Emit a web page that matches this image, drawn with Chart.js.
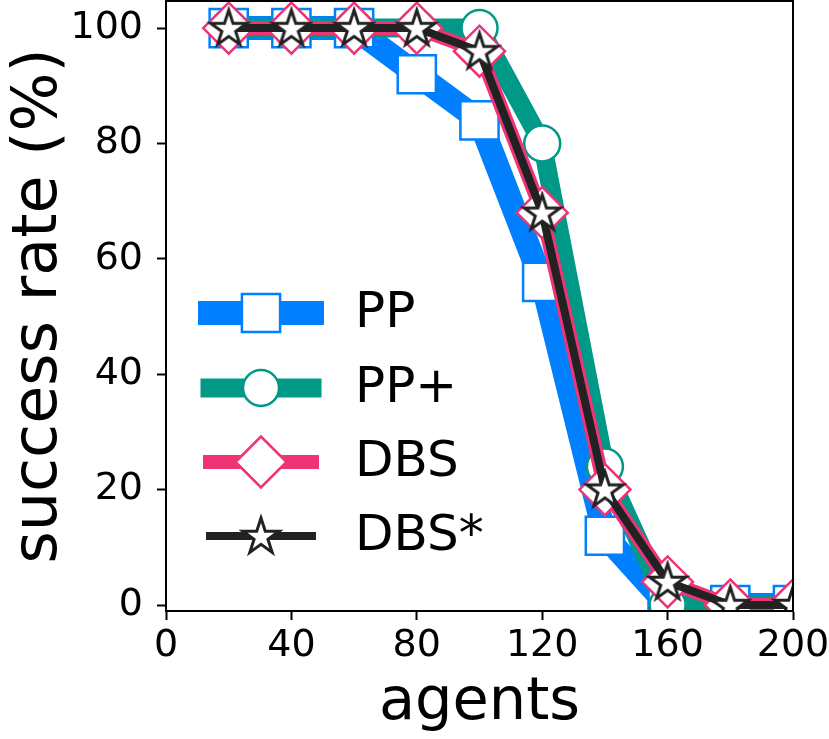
<!DOCTYPE html>
<html>
<head>
<meta charset="utf-8">
<script src="https://cdn.jsdelivr.net/npm/chart.js@4.4.0/dist/chart.umd.min.js"></script>
<style>
  body { margin: 0; background: #fff; }
  #wrap { width: 829px; height: 739px; }
</style>
</head>
<body>
<div id="wrap"><canvas id="lineChart" width="829" height="739"></canvas></div>
<script>
// data
var agents = [20, 40, 60, 80, 100, 120, 140, 160, 180, 200];
var ppRate = [100, 100, 100, 92, 84, 56, 12, 0, 0, 0];
var ppPlusRate = [100, 100, 100, 100, 100, 80, 24, 0, 0, 0];
var dbsRate = [100, 100, 100, 100, 96, 68, 20, 4, 0, 0];
var dbsStarRate = [100, 100, 100, 100, 96, 68, 20, 4, 0, 0];
var seriesNames = ['PP', 'PP+', 'DBS', 'DBS*'];
var xTicks = [0, 40, 80, 120, 160, 200];
var yTicks = [0, 20, 40, 60, 80, 100];

var FONT = "'DejaVu Sans', sans-serif";
var colBlue = '#0080ff', colTeal = '#009988', colPink = '#ee3377', colDark = '#222222';

// five pointed star marker
function makeStar(outer, color) {
    var c = document.createElement('canvas');
    var s = Math.ceil(outer * 2 + 6);
    c.width = s; c.height = s;
    var g = c.getContext('2d');
    var inner = outer * 0.381966;
    g.beginPath();
    for (var i = 0; i < 10; i++) {
        var r = i % 2 ? inner : outer;
        var a = -Math.PI / 2 + i * Math.PI / 5;
        var px = s / 2 + r * Math.cos(a), py = s / 2 + r * Math.sin(a) + 1;
        if (i === 0) g.moveTo(px, py); else g.lineTo(px, py);
    }
    g.closePath();
    g.fillStyle = '#fff';
    g.fill();
    g.lineWidth = 3;
    g.lineJoin = 'miter';
    g.strokeStyle = color;
    g.stroke();
    return c;
}
var starImg = makeStar(19, colDark);

function toPoints(ys) {
    return agents.map(function (a, i) { return { x: a, y: ys[i] }; });
}

var styles = [
    { color: colBlue, width: 24, style: 'rect', radius: 27 },
    { color: colTeal, width: 19, style: 'circle', radius: 18 },
    { color: colPink, width: 14, style: 'rectRot', radius: 25.5 },
    { color: colDark, width: 8, style: starImg, radius: 19 }
];
var allRates = [ppRate, ppPlusRate, dbsRate, dbsStarRate];

var datasets = allRates.map(function (ys, i) {
    var st = styles[i];
    return {
        label: seriesNames[i],
        data: toPoints(ys),
        borderColor: st.color,
        borderWidth: st.width,
        borderJoinStyle: 'round',
        pointStyle: st.style,
        pointRadius: st.radius,
        pointHoverRadius: st.radius,
        pointBackgroundColor: '#fff',
        pointBorderColor: st.color,
        pointBorderWidth: 2.5,
        tension: 0,
        clip: 0,
        order: 4 - i
    };
});

// box spines + in-plot legend
var framePlugin = {
    id: 'frame',
    afterDatasetsDraw: function (chart) {
        var ctx = chart.ctx, a = chart.chartArea;
        ctx.save();
        ctx.strokeStyle = '#000';
        ctx.lineWidth = 2;
        ctx.strokeRect(a.left, a.top, a.right - a.left, a.bottom - a.top);

        var rows = [313, 388, 462, 536];
        var cx = 261;
        styles.forEach(function (st, i) {
            var y = rows[i];
            var half = 51 + st.width / 2;
            ctx.beginPath();
            ctx.moveTo(cx - half, y);
            ctx.lineTo(cx + half, y);
            ctx.lineWidth = st.width;
            ctx.strokeStyle = st.color;
            ctx.lineCap = 'butt';
            ctx.stroke();
            ctx.fillStyle = '#fff';
            ctx.strokeStyle = st.color;
            ctx.lineWidth = 2.5;
            Chart.helpers.drawPoint(ctx, { pointStyle: st.style, radius: st.radius, rotation: 0, borderWidth: 2.5 }, cx, y);
            ctx.fillStyle = '#000';
            ctx.font = '50px ' + FONT;
            ctx.textAlign = 'left';
            ctx.textBaseline = 'middle';
            ctx.fillText(seriesNames[i], 355, y + 1);
        });
        ctx.restore();
    }
};

var ctxLine = document.getElementById('lineChart');
var myLineChart = new Chart(ctxLine, {
    type: 'line',
    data: { datasets: datasets },
    plugins: [framePlugin],
    options: {
        responsive: false,
        animation: false,
        layout: { autoPadding: false, padding: { top: 1, right: 36, left: 0, bottom: 0 } },
        plugins: {
            legend: { display: false },
            tooltip: { enabled: false }
        },
        scales: {
            x: {
                type: 'linear',
                min: 0,
                max: 200,
                afterBuildTicks: function (axis) {
                    axis.ticks = xTicks.map(function (v) { return { value: v }; });
                },
                afterFit: function (scale) {
                    scale.height = 128;
                    scale.paddingLeft = 0;
                    scale.paddingRight = 0;
                },
                ticks: {
                    autoSkip: false,
                    maxRotation: 0,
                    padding: 3,
                    color: '#000',
                    font: { family: FONT, size: 38 }
                },
                grid: { drawOnChartArea: false, drawTicks: true, tickLength: 9, tickWidth: 2, tickColor: '#000' },
                border: { display: true, color: '#000', width: 2 },
                title: {
                    display: true,
                    text: 'agents',
                    color: '#000',
                    padding: 0,
                    font: { family: FONT, size: 59 }
                }
            },
            y: {
                type: 'linear',
                min: -1.04,
                max: 104.7,
                afterBuildTicks: function (axis) {
                    axis.ticks = yTicks.map(function (v) { return { value: v }; });
                },
                afterFit: function (scale) {
                    scale.width = 166;
                    scale.paddingTop = 0;
                    scale.paddingBottom = 0;
                },
                ticks: {
                    autoSkip: false,
                    padding: 14,
                    color: '#000',
                    font: { family: FONT, size: 38 }
                },
                grid: { drawOnChartArea: false, drawTicks: true, tickLength: 9, tickWidth: 2, tickColor: '#000' },
                border: { display: true, color: '#000', width: 2 },
                title: {
                    display: true,
                    text: 'success rate (%)',
                    color: '#000',
                    padding: { top: 3, bottom: 0 },
                    font: { family: FONT, size: 62 }
                }
            }
        }
    }
});
</script>
</body>
</html>
